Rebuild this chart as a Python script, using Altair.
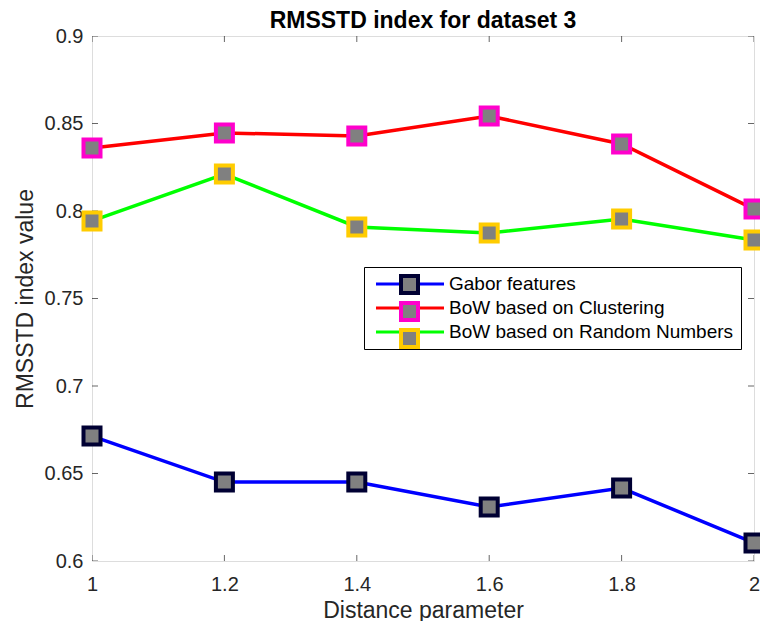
import altair as alt
import pandas as pd

distance = [1.0, 1.2, 1.4, 1.6, 1.8, 2.0]
gabor = [0.6714, 0.6451, 0.6451, 0.6309, 0.6417, 0.6103]
bow_cluster = [0.8360, 0.8446, 0.8429, 0.8543, 0.8383, 0.8011]
bow_random = [0.7943, 0.8211, 0.7909, 0.7874, 0.7954, 0.7834]

series_names = ["Gabor features", "BoW based on Clustering", "BoW based on Random Numbers"]
line_colors = ["#0000ff", "#ff0000", "#00ff00"]
edge_colors = ["#000033", "#ff00cc", "#ffcc00"]

x_ticks = [1, 1.2, 1.4, 1.6, 1.8, 2]
y_ticks = [0.6, 0.65, 0.7, 0.75, 0.8, 0.85, 0.9]

rows = []
for name, vals in zip(series_names, [gabor, bow_cluster, bow_random]):
    for d, v in zip(distance, vals):
        rows.append({"distance": d, "value": v, "series": name})
df = pd.DataFrame(rows)

FONT = "Liberation Sans"
AX = "#262626"

xscale = alt.Scale(domain=[1, 2], nice=False, zero=False)
yscale = alt.Scale(domain=[0.6, 0.9], nice=False, zero=False)

x_axis = alt.Axis(values=x_ticks, format="~g", title="Distance parameter",
                  domain=False, ticks=False, grid=False, labelPadding=13,
                  titlePadding=5, labelFontSize=20, titleFontSize=23,
                  labelFont=FONT, titleFont=FONT, labelColor=AX, titleColor=AX,
                  titleFontWeight="normal", labelFlush=False)
y_axis = alt.Axis(values=y_ticks, format="~g", title="RMSSTD index value",
                  domain=False, ticks=False, grid=False, labelPadding=9,
                  titlePadding=7, labelFontSize=20, titleFontSize=23,
                  labelFont=FONT, titleFont=FONT, labelColor=AX, titleColor=AX,
                  titleFontWeight="normal", labelFlush=False)


def xe():
    return alt.X("distance:Q", scale=xscale, axis=x_axis)


def ye():
    return alt.Y("value:Q", scale=yscale, axis=y_axis)


lines = alt.Chart(df).mark_line(strokeWidth=3.5).encode(
    x=xe(), y=ye(),
    color=alt.Color("series:N",
                    scale=alt.Scale(domain=series_names, range=line_colors),
                    legend=alt.Legend(orient="none", legendX=272, legendY=231, title=None,
                                      symbolType="M-4,0H-1M1,0H4", symbolSize=289,
                                      symbolStrokeWidth=3, symbolOffset=29, labelOffset=29,
                                      labelFontSize=19, labelFont=FONT, labelColor="black",
                                      padding=7, rowPadding=4, strokeColor="black",
                                      fillColor="white", labelLimit=400)),
    detail="series:N",
)

points = alt.Chart(df).mark_point(shape="square", filled=True, fill="#808080", size=289,
                                  strokeWidth=4, opacity=1).encode(
    x=xe(), y=ye(),
    stroke=alt.Stroke("series:N",
                      scale=alt.Scale(domain=series_names, range=edge_colors),
                      legend=alt.Legend(orient="none", legendX=300, legendY=231, title=None,
                                        symbolType="square", symbolSize=289,
                                        symbolStrokeWidth=4, symbolFillColor="#808080",
                                        labelFontSize=19, labelFont=FONT, labelOpacity=0,
                                        padding=7, rowPadding=-9, labelLimit=400)),
)

xt = pd.DataFrame({"distance": x_ticks * 2,
                   "value": [0.6] * len(x_ticks) + [0.9] * len(x_ticks)})
yt = pd.DataFrame({"value": y_ticks * 2,
                   "distance": [1.0] * len(y_ticks) + [2.0] * len(y_ticks)})

xtick_layer = alt.Chart(xt).mark_tick(orient="vertical", size=12, thickness=1,
                                      clip=True, color=AX).encode(x=xe(), y=ye())
ytick_layer = alt.Chart(yt).mark_tick(orient="horizontal", size=12, thickness=1,
                                      clip=True, color=AX).encode(x=xe(), y=ye())

chart = alt.layer(xtick_layer, ytick_layer, lines, points).properties(
    width=662, height=525,
    title=alt.TitleParams("RMSSTD index for dataset 3", fontSize=23, fontWeight="bold",
                          font=FONT, color="black", offset=10, dy=17),
    autosize=alt.AutoSizeParams(type="none"),
    padding={"left": 84, "top": 28, "right": 6, "bottom": 60},
).resolve_scale(color="independent", stroke="independent").configure_view(
    stroke=AX, strokeWidth=1
).configure(background="white")

chart.save("out.html", embed_options={"renderer": "svg", "actions": False})
